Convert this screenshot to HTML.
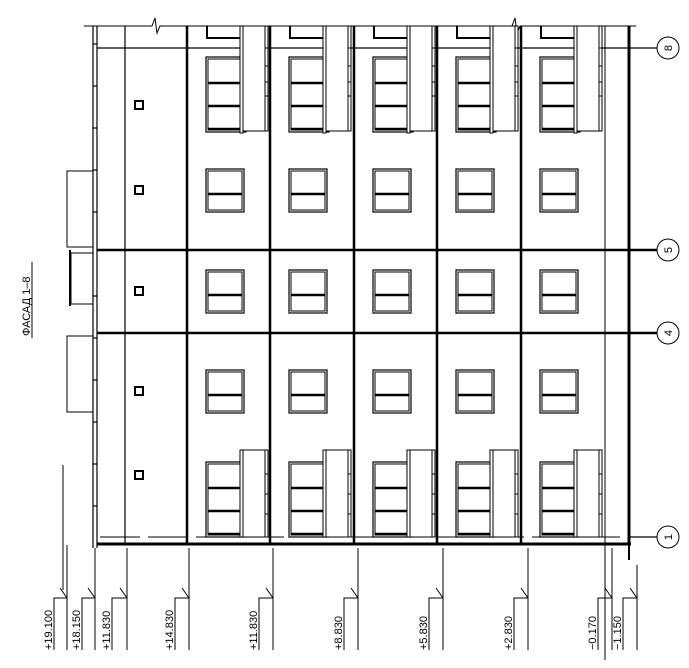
<!DOCTYPE html>
<html><head><meta charset="utf-8"><style>
html,body{margin:0;padding:0;background:#fff;width:689px;height:668px;overflow:hidden}
svg{display:block}
text{font-family:"Liberation Sans",sans-serif;font-size:11px;fill:#000}
</style></head><body>
<svg width="689" height="668" viewBox="0 0 689 668" xmlns="http://www.w3.org/2000/svg">
<defs>
<g id="win" fill="none" stroke="#000">
  <rect x="0" y="0" width="38" height="43" stroke-width="1.2"/>
  <rect x="2" y="2" width="34" height="39" stroke-width="1"/>
  <line x1="2" y1="25" x2="36" y2="25" stroke-width="2.5"/>
</g>
<g id="bwin" fill="none" stroke="#000">
  <rect x="0" y="0" width="40" height="75" stroke-width="1.2"/>
  <rect x="2" y="2" width="36" height="71" stroke-width="1"/>
  <line x1="2" y1="26" x2="38" y2="26" stroke-width="2.5"/>
  <line x1="2" y1="49" x2="38" y2="49" stroke-width="2.5"/>
  <line x1="2" y1="72" x2="38" y2="72" stroke-width="2.5"/>
</g>
<g id="bay">
  <line x1="0" y1="26" x2="0" y2="544" stroke="#000" stroke-width="2.5"/>
  <path d="M20 26 V38 H58" fill="none" stroke="#000" stroke-width="2"/>
  <use href="#bwin" x="19" y="57"/>
  <use href="#win" x="19" y="169"/>
  <use href="#win" x="19" y="270"/>
  <use href="#win" x="19" y="370"/>
  <use href="#bwin" x="19" y="462"/>
  <g fill="#fff" stroke="#000" stroke-width="1">
    <rect x="55" y="26" width="24" height="105"/>
    <rect x="53" y="26" width="3" height="107"/>
    <rect x="78" y="26" width="3" height="105"/>
    <rect x="55" y="450" width="24" height="87"/>
    <rect x="53" y="450" width="3" height="87"/>
    <rect x="78" y="450" width="3" height="87"/>
  </g>
  <g stroke="#000" stroke-width="1">
    <line x1="78" y1="48" x2="81" y2="48"/><line x1="78" y1="66" x2="81" y2="66"/><line x1="78" y1="82" x2="81" y2="82"/><line x1="78" y1="96" x2="81" y2="96"/>
    <line x1="78" y1="474" x2="81" y2="474"/><line x1="78" y1="494" x2="81" y2="494"/><line x1="78" y1="514" x2="81" y2="514"/>
  </g>
</g>
</defs>

<g stroke="#000" stroke-width="1.2">
  <line x1="97" y1="48" x2="657" y2="48"/>
  <line x1="97" y1="250" x2="657" y2="250" stroke-width="2.5"/>
  <line x1="97" y1="333" x2="657" y2="333" stroke-width="2.5"/>
  <line x1="630" y1="537" x2="657" y2="537"/>
</g>
<line x1="100" y1="537" x2="630" y2="537" stroke="#000" stroke-width="1" stroke-dasharray="40,8"/>
<path d="M84 26 H152 L155 18 L157 33 L160 26 H512 L515 18 L517 33 L520 26 H636" fill="none" stroke="#000" stroke-width="1"/>
<line x1="97" y1="544" x2="631" y2="544" stroke="#000" stroke-width="3"/>
<line x1="629" y1="26" x2="629" y2="544" stroke="#000" stroke-width="3"/>
<line x1="629" y1="544" x2="629" y2="560" stroke="#000" stroke-width="2"/>

<g stroke="#000" stroke-width="1.2" fill="none">
  <line x1="93" y1="26" x2="93" y2="548"/>
  <line x1="97" y1="26" x2="97" y2="548"/>
  <line x1="125" y1="26" x2="125" y2="544"/>
  <line x1="93" y1="44" x2="97" y2="44"/><line x1="93" y1="86" x2="97" y2="86"/><line x1="93" y1="128" x2="97" y2="128"/><line x1="93" y1="170" x2="97" y2="170"/><line x1="93" y1="212" x2="97" y2="212"/><line x1="93" y1="296" x2="97" y2="296"/><line x1="93" y1="338" x2="97" y2="338"/><line x1="93" y1="380" x2="97" y2="380"/><line x1="93" y1="422" x2="97" y2="422"/><line x1="93" y1="464" x2="97" y2="464"/><line x1="93" y1="506" x2="97" y2="506"/>
  <rect x="67" y="171" width="26" height="76" stroke-width="1"/>
  <rect x="71" y="253" width="22" height="51" stroke-width="1"/>
  <line x1="70" y1="250" x2="70" y2="306" stroke-width="2"/>
  <rect x="67" y="336" width="26" height="76" stroke-width="1"/>
  <line x1="63" y1="465" x2="63" y2="590" stroke-width="1"/>
</g>
<g fill="none" stroke="#000" stroke-width="2">
  <rect x="135" y="101" width="8" height="8"/>
  <rect x="135" y="186" width="8" height="8"/>
  <rect x="135" y="287" width="8" height="8"/>
  <rect x="135" y="387" width="8" height="8"/>
  <rect x="135" y="471" width="8" height="8"/>
</g>

<use href="#bay" x="187"/>
<use href="#bay" x="270"/>
<use href="#bay" x="354"/>
<use href="#bay" x="437"/>
<use href="#bay" x="521"/>
<line x1="605" y1="26" x2="605" y2="660" stroke="#000" stroke-width="1"/>

<g fill="#fff" stroke="#000" stroke-width="1">
  <circle cx="668" cy="48" r="11"/><circle cx="668" cy="250" r="11"/><circle cx="668" cy="333" r="11"/><circle cx="668" cy="537" r="11"/>
</g>
<g font-size="12">
  <text transform="translate(672,48) rotate(-90)" text-anchor="middle">8</text>
  <text transform="translate(672,250) rotate(-90)" text-anchor="middle">5</text>
  <text transform="translate(672,333) rotate(-90)" text-anchor="middle">4</text>
  <text transform="translate(672,537) rotate(-90)" text-anchor="middle">1</text>
</g>

<text transform="translate(30,336) rotate(-90)" font-size="12">ФАСАД 1–8</text>
<line x1="32" y1="262" x2="32" y2="338" stroke="#000" stroke-width="1"/>

<g stroke="#000" stroke-width="1" fill="none">
  <path d="M67 545 V650"/><path d="M95 548 V650"/><path d="M127 548 V650"/><path d="M189 548 V650"/><path d="M273 548 V650"/><path d="M358 548 V650"/><path d="M443 548 V650"/><path d="M528 548 V650"/><path d="M612 548 V650"/><path d="M637 565 V650"/>
</g>
<g stroke="#000" stroke-width="1" fill="none">
  <path d="M54 650 V598 H67 M60 588 L67 598"/>
  <path d="M82 650 V598 H95 M88 588 L95 598"/>
  <path d="M112 650 V598 H127 M120 588 L127 598"/>
  <path d="M175 650 V598 H189 M182 588 L189 598"/>
  <path d="M259 650 V598 H273 M266 588 L273 598"/>
  <path d="M344 650 V598 H358 M351 588 L358 598"/>
  <path d="M429 650 V598 H443 M436 588 L443 598"/>
  <path d="M514 650 V598 H528 M521 588 L528 598"/>
  <path d="M598 650 V598 H612 M605 588 L612 598"/>
  <path d="M623 650 V598 H637 M630 588 L637 598"/>
</g>
<g font-size="10">
  <text transform="translate(52,650) rotate(-90)">+19.100</text>
  <text transform="translate(80,650) rotate(-90)">+18.150</text>
  <text transform="translate(110,650) rotate(-90)">+11.830</text>
  <text transform="translate(173,650) rotate(-90)">+14.830</text>
  <text transform="translate(257,650) rotate(-90)">+11.830</text>
  <text transform="translate(342,650) rotate(-90)">+8.830</text>
  <text transform="translate(427,650) rotate(-90)">+5.830</text>
  <text transform="translate(512,650) rotate(-90)">+2.830</text>
  <text transform="translate(596,650) rotate(-90)">−0.170</text>
  <text transform="translate(621,650) rotate(-90)">−1.150</text>
</g>
</svg>
</body></html>
